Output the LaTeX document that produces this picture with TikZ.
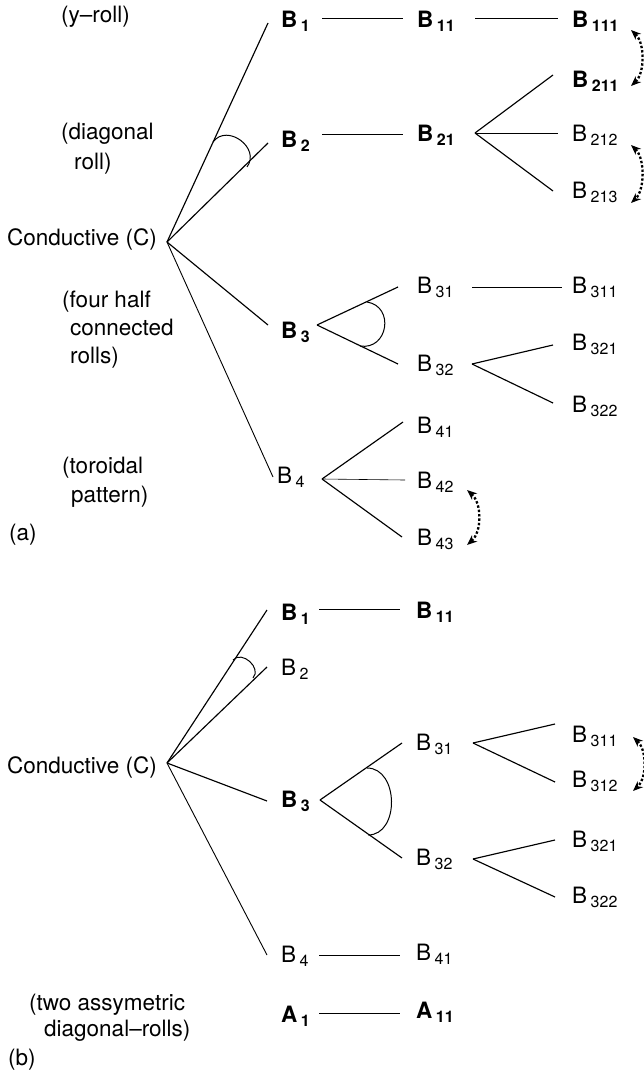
\documentclass[tikz,border=0pt]{standalone}
\usepackage{fontspec}
\setmainfont{TeX Gyre Heros}
\usetikzlibrary{arrows.meta}
\newcommand\lab[2]{#1\hspace{3.5pt}\raisebox{-4pt}{\fontsize{16}{16}\selectfont #2}}
\newcommand\blab[2]{{\bfseries #1\hspace{3.5pt}\raisebox{-4pt}{\fontsize{16}{16}\selectfont #2}}}
\begin{document}
\begin{tikzpicture}[x=1pt,y=-1pt,
  every node/.style={inner sep=0pt,anchor=base west,font=\fontsize{22.5}{27}\selectfont},
  lnA/.style={line width=1.15pt},
  lnB/.style={line width=0.9pt},
  lnC/.style={line width=0.6pt},
  angarc/.style={line width=1pt},
  xchg/.style={line width=2.3pt,dash pattern=on 2.4pt off 2pt,
    {Stealth[length=10pt,width=8pt]}-{Stealth[length=10pt,width=8pt]}}]
\useasboundingbox (0,0) rectangle (643,1078);

% ================= panel (a) =================
\node (aL1)  at (61,23)  {(y–roll)};
\node (aL2a) at (61,140) {(diagonal};
\node (aL2b) at (74,170) {roll)};
\node (aL3a) at (62,307) {(four half};
\node (aL3b) at (70,335) {connected};
\node (aL3c) at (70,363) {rolls)};
\node (aL4a) at (62,473) {(toroidal};
\node (aL4b) at (71,502) {pattern)};
\node (aTag) at (9,540)  {(a)};

\node (aC) at (7,245) {Conductive (C)};
\coordinate (aO) at (167,242);

\node (aB1)   at (281,28)  {\blab{B}{1}};
\node (aB2)   at (281,148) {\blab{B}{2}};
\node (aB3)   at (281,338) {\blab{B}{3}};
\node (aB4)   at (277,483) {\lab{B}{4}};
\node (aB11)  at (417,28)  {\blab{B}{11}};
\node (aB21)  at (417,142) {\blab{B}{21}};
\node (aB111) at (572,28)  {\blab{B}{111}};
\node (aB211) at (572,88)  {\blab{B}{211}};
\node (aB212) at (572,142) {\lab{B}{212}};
\node (aB213) at (572,198) {\lab{B}{213}};
\node (aB31)  at (417,293) {\lab{B}{31}};
\node (aB32)  at (417,371) {\lab{B}{32}};
\node (aB311) at (572,293) {\lab{B}{311}};
\node (aB321) at (572,350) {\lab{B}{321}};
\node (aB322) at (572,412) {\lab{B}{322}};
\node (aB41)  at (417,433) {\lab{B}{41}};
\node (aB42)  at (417,488) {\lab{B}{42}};
\node (aB43)  at (417,545) {\lab{B}{43}};

\coordinate (aE1) at (268,23);
\coordinate (aE2) at (268,143);
\coordinate (aE3) at (268,325);
\coordinate (aE4) at (273,477);
\draw[lnA] (aO) -- (aE1);
\draw[lnA] (aO) -- (aE2);
\draw[lnA] (aO) -- (aE3);
\draw[lnB] (aO) -- (aE4);
\draw[angarc] (213,142) .. controls +(14,-19) and +(14,-19) .. (247,167);

% B1 - B11 - B111
\coordinate (a1s) at (322,18);  \coordinate (a1t) at (403,18);
\coordinate (a11s) at (475,18); \coordinate (a11t) at (558,18);
\draw[lnB] (a1s) -- (a1t);
\draw[lnB] (a11s) -- (a11t);
% B2 - B21 and fan
\coordinate (a2s) at (322,134); \coordinate (a2t) at (403,134);
\draw[lnC] (a2s) -- (a2t);
\coordinate (a21o) at (475,133);
\coordinate (a211e) at (553,75);
\coordinate (a212e) at (558,133);
\coordinate (a213e) at (553,191);
\draw[lnA] (a21o) -- (a211e);
\draw[lnC] (a21o) -- (a212e);
\draw[lnA] (a21o) -- (a213e);
% B3 fan
\coordinate (a3o) at (317,325);
\coordinate (a31e) at (398,287);
\coordinate (a32e) at (398,364);
\draw[lnA] (a3o) -- (a31e);
\draw[lnA] (a3o) -- (a32e);
\draw[angarc] (367,302) .. controls +(28,4.5) and +(28,4.5) .. (360,346);
\coordinate (a31s) at (472,287); \coordinate (a31t) at (562,287);
\draw[lnB] (a31s) -- (a31t);
\coordinate (a32o) at (472,364);
\coordinate (a321e) at (553,345);
\coordinate (a322e) at (553,403);
\draw[lnA] (a32o) -- (a321e);
\draw[lnA] (a32o) -- (a322e);
% B4 fan
\coordinate (a4o) at (322,479);
\coordinate (a41e) at (403,422);
\coordinate (a42e) at (405,480);
\coordinate (a43e) at (402,537);
\draw[lnA] (a4o) -- (a41e);
\draw[lnC] (a4o) -- (a42e);
\draw[lnA] (a4o) -- (a43e);

% exchange arrows
\coordinate (x1a) at (631,30);  \coordinate (x1b) at (631,86);
\coordinate (x2a) at (631,145); \coordinate (x2b) at (631,203);
\coordinate (x3a) at (467,490); \coordinate (x3b) at (467,545);
\draw[xchg] (x1a) .. controls +(14,13) and +(14,-13) .. (x1b);
\draw[xchg] (x2a) .. controls +(14,13) and +(14,-13) .. (x2b);
\draw[xchg] (x3a) .. controls +(15,13) and +(15,-13) .. (x3b);

% ================= panel (b) =================
\node (bL1a) at (29,1010) {(two assymetric};
\node (bL1b) at (44,1036) {diagonal–rolls)};
\node (bTag) at (8,1065)  {(b)};

\node (bC) at (7,773) {Conductive (C)};
\coordinate (bO) at (167,763);

\node (bB1)   at (281,620)  {\blab{B}{1}};
\node (bB2)   at (281,675)  {\lab{B}{2}};
\node (bB3)   at (281,807)  {\blab{B}{3}};
\node (bB4)   at (281,962)  {\lab{B}{4}};
\node (bA1)   at (281,1022) {\blab{A}{1}};
\node (bB11)  at (416,618)  {\blab{B}{11}};
\node (bB31)  at (416,750)  {\lab{B}{31}};
\node (bB32)  at (416,865)  {\lab{B}{32}};
\node (bB41)  at (416,960)  {\lab{B}{41}};
\node (bA11)  at (416,1018) {\blab{A}{11}};
\node (bB311) at (572,742)  {\lab{B}{311}};
\node (bB312) at (572,787)  {\lab{B}{312}};
\node (bB321) at (572,847)  {\lab{B}{321}};
\node (bB322) at (572,903)  {\lab{B}{322}};

\coordinate (bE1) at (267,610);
\coordinate (bE2) at (267,667);
\coordinate (bE3) at (267,801);
\coordinate (bE4) at (267,955);
\draw[lnA] (bO) -- (bE1);
\draw[lnA] (bO) -- (bE2);
\draw[lnA] (bO) -- (bE3);
\draw[lnB] (bO) -- (bE4);
\draw[angarc] (233,660) .. controls +(9,-10) and +(9,-10) .. (253,678);

\coordinate (b1s) at (319,609); \coordinate (b1t) at (400,609);
\draw[lnB] (b1s) -- (b1t);
\coordinate (b3o) at (320,800);
\coordinate (b31e) at (402,743);
\coordinate (b32e) at (402,858);
\draw[lnA] (b3o) -- (b31e);
\draw[lnA] (b3o) -- (b32e);
\draw[angarc] (367,768) .. controls +(32,0) and +(32,0) .. (368,835);
\coordinate (b31o) at (473,743);
\coordinate (b311e) at (555,724);
\coordinate (b312e) at (555,782);
\draw[lnA] (b31o) -- (b311e);
\draw[lnA] (b31o) -- (b312e);
\coordinate (b32o) at (473,859);
\coordinate (b321e) at (555,840);
\coordinate (b322e) at (555,897);
\draw[lnA] (b32o) -- (b321e);
\draw[lnA] (b32o) -- (b322e);
\coordinate (b4s) at (319,955); \coordinate (b4t) at (400,955);
\draw[lnC] (b4s) -- (b4t);
\coordinate (bAs) at (319,1013); \coordinate (bAt) at (400,1013);
\draw[lnC] (bAs) -- (bAt);

\coordinate (x4a) at (633,737); \coordinate (x4b) at (633,791);
\draw[xchg] (x4a) .. controls +(14,13) and +(14,-13) .. (x4b);
\end{tikzpicture}
\end{document}
